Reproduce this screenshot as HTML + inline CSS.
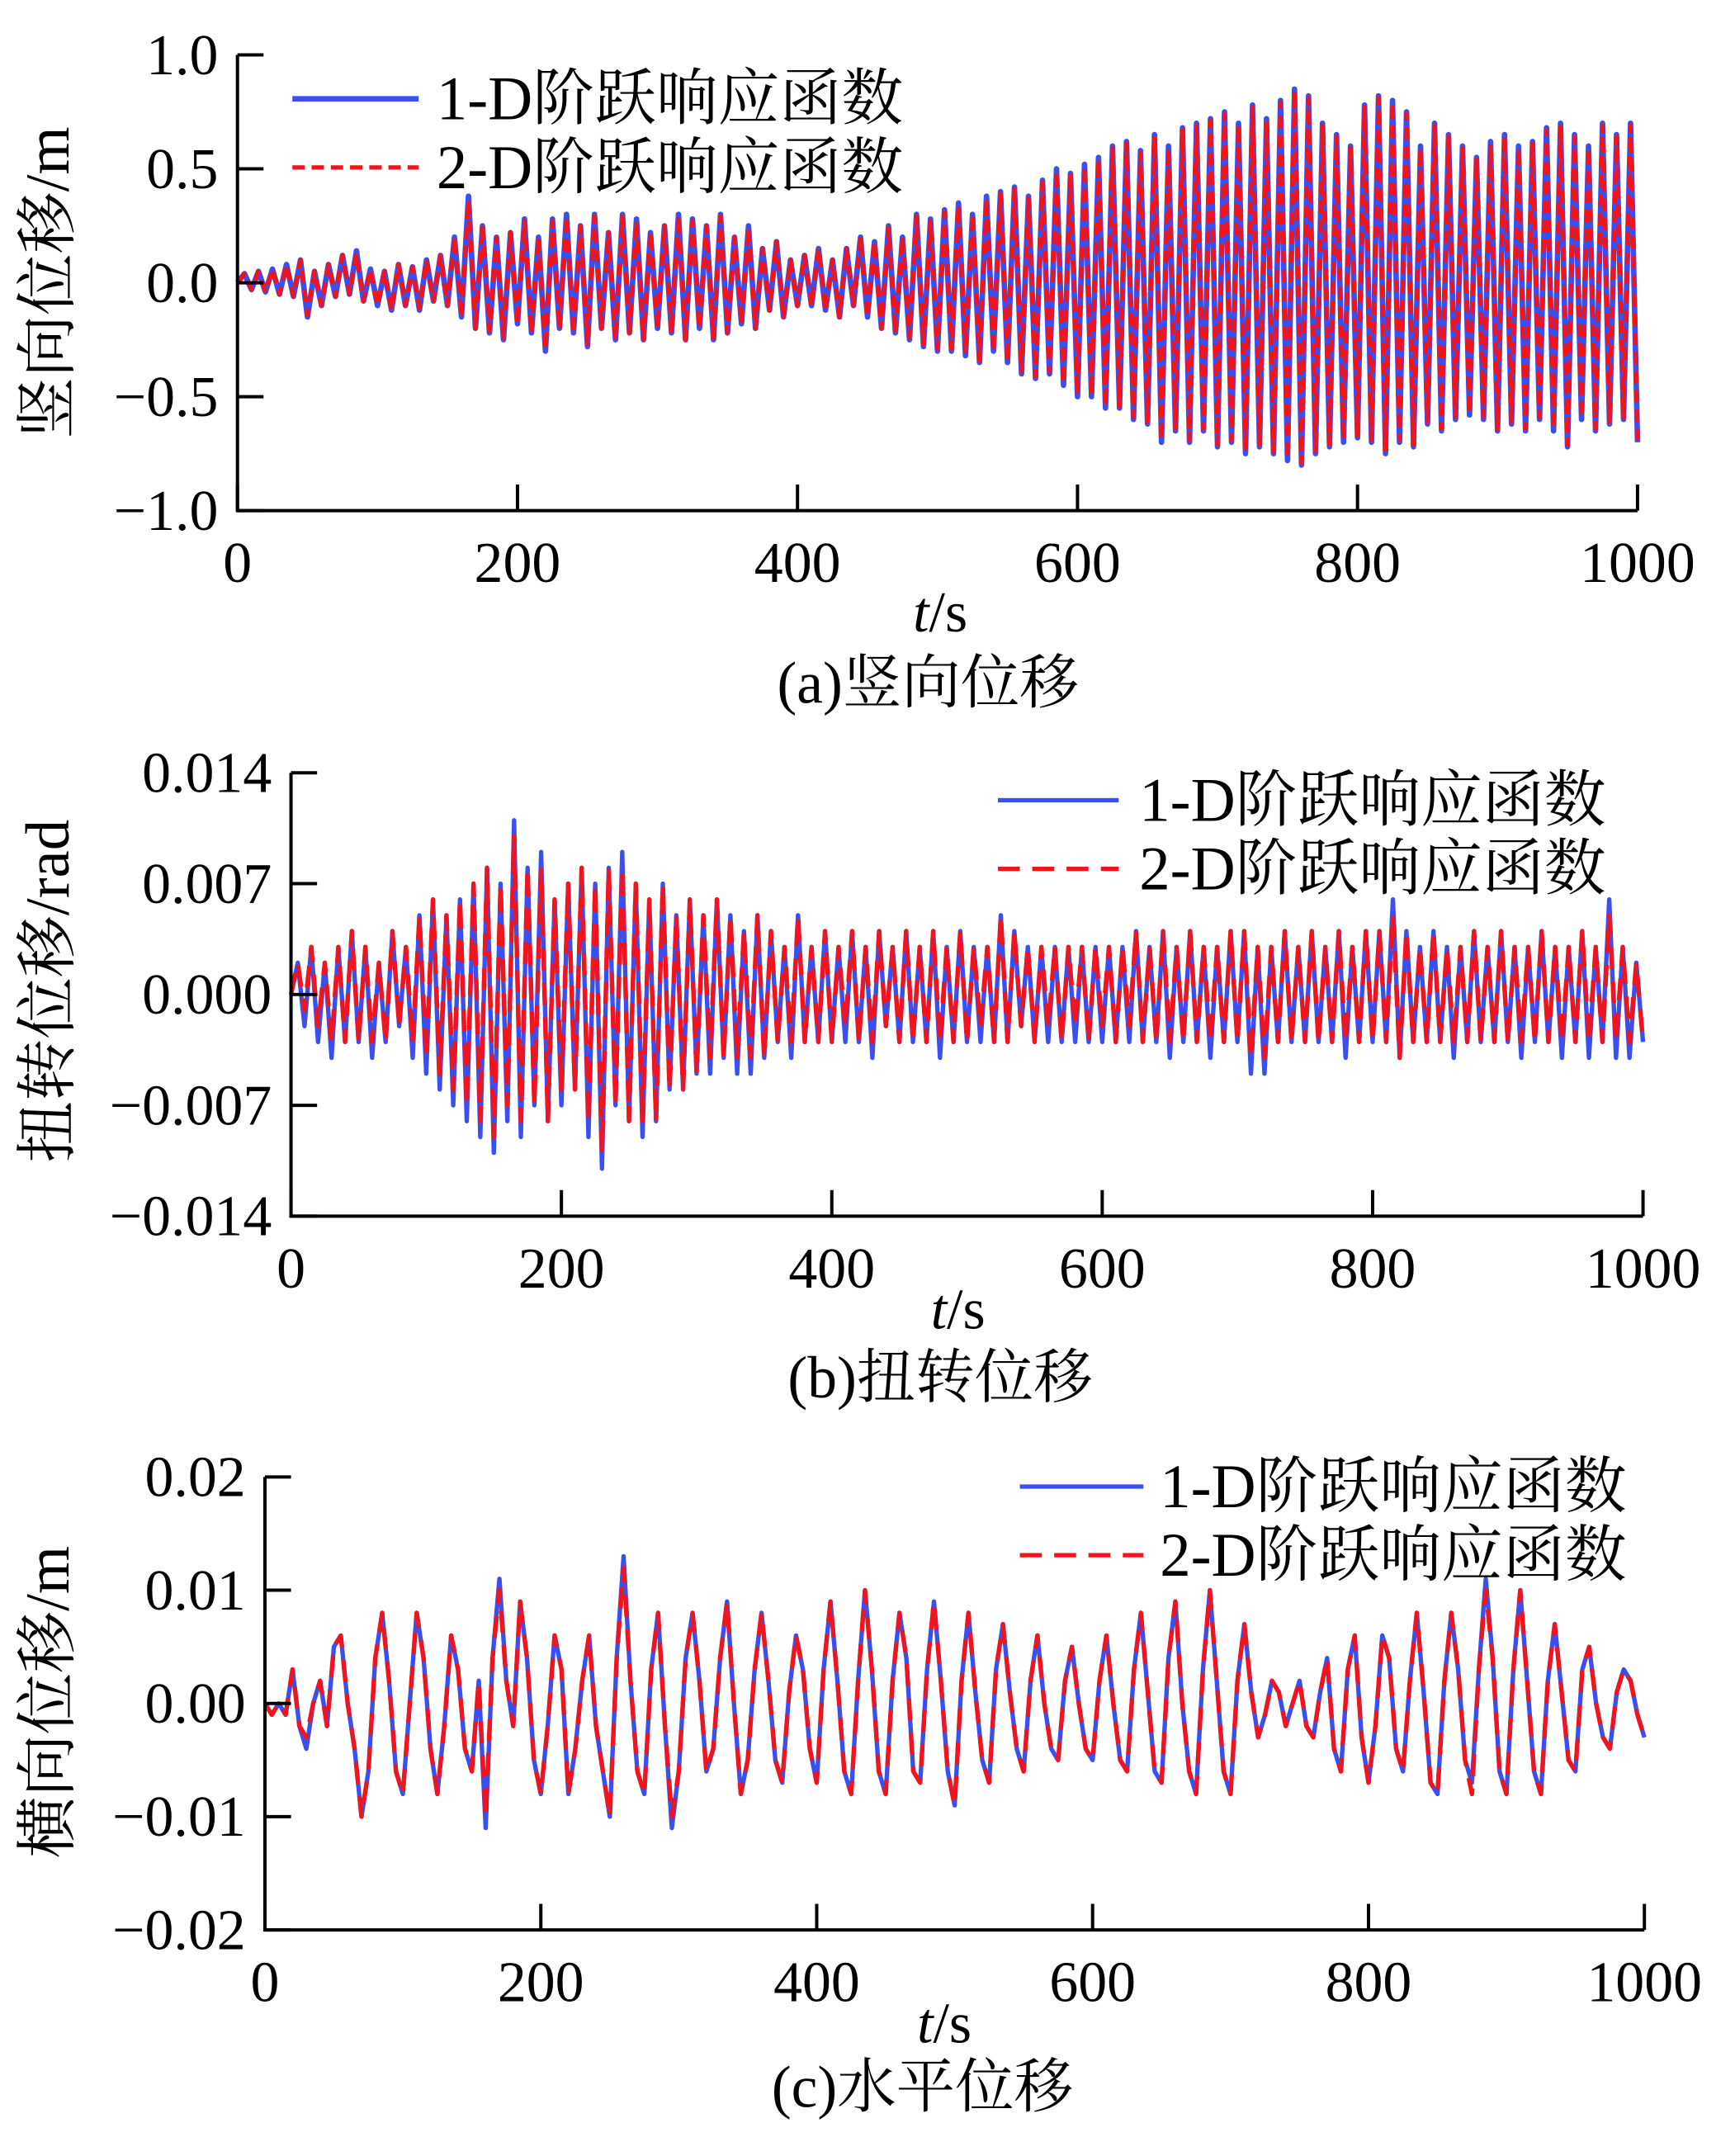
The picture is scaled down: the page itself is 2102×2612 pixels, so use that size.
<!DOCTYPE html>
<html><head><meta charset="utf-8">
<style>
html,body{margin:0;padding:0;background:#fff;}
svg{display:block;}
text{font-family:"Liberation Serif","Noto Serif CJK SC",serif;fill:#000;}
</style></head>
<body>
<svg id="fig" width="2102" height="2612" viewBox="0 0 1264 1570.7" xmlns="http://www.w3.org/2000/svg"></svg>
<script>
// ---- data (sampled every 5 s, t = 0..1000) ----
const tStep = 5;
const xTicks = [0,200,400,600,800,1000];
const xTickLabels = ["0","200","400","600","800","1000"];

const aTicks = [1.0,0.5,0.0,-0.5,-1.0];
const aTickLabels = ["1.0","0.5","0.0","\u22120.5","\u22121.0"];
const a1 = [0,0.04,-0.03,0.05,-0.04,0.06,-0.05,0.08,-0.06,0.1,-0.15,
0.05,-0.1,0.08,-0.06,0.12,-0.05,0.14,-0.08,0.06,-0.1,0.05,-0.12,0.08,-0.1,0.07,-0.12,0.1,-0.08,0.12,-0.1,
0.2,-0.15,0.38,-0.2,0.25,-0.22,0.2,-0.25,0.22,-0.18,
0.28,-0.22,0.2,-0.3,0.28,-0.2,0.3,-0.22,0.25,-0.28,0.3,-0.2,0.22,-0.25,0.3,-0.22,0.28,-0.25,0.22,-0.2,
0.25,-0.22,0.3,-0.25,0.28,-0.2,0.25,-0.25,0.3,-0.22,0.2,-0.18,0.25,-0.2,0.15,-0.12,0.18,-0.15,0.1,-0.1,
0.12,-0.1,0.15,-0.12,0.1,-0.15,0.15,-0.1,0.2,-0.15,0.18,-0.2,0.25,-0.22,0.2,-0.25,0.3,-0.28,0.28,-0.3,
0.32,-0.3,0.35,-0.32,0.3,-0.35,0.38,-0.3,0.4,-0.35,0.42,-0.4,0.38,-0.42,0.45,-0.4,0.5,-0.45,0.48,-0.5,
0.52,-0.5,0.55,-0.55,0.6,-0.55,0.62,-0.6,0.58,-0.62,0.65,-0.7,0.6,-0.65,0.68,-0.7,0.7,-0.65,0.72,-0.72,
0.75,-0.7,0.7,-0.75,0.78,-0.72,0.72,-0.75,0.8,-0.78,0.85,-0.8,0.82,-0.75,0.7,-0.72,0.65,-0.7,0.6,-0.68,
0.78,-0.7,0.82,-0.75,0.8,-0.7,0.75,-0.72,0.6,-0.62,0.7,-0.65,0.65,-0.6,0.6,-0.58,0.55,-0.6,0.62,-0.65,
0.65,-0.62,0.6,-0.65,0.62,-0.6,0.68,-0.65,0.7,-0.72,0.65,-0.6,0.6,-0.65,0.7,-0.62,0.65,-0.6,0.7,-0.7];
const a2 = [0,0.04,-0.03,0.05,-0.04,0.06,-0.05,0.08,-0.06,0.1,-0.14,
0.05,-0.1,0.08,-0.06,0.12,-0.05,0.13,-0.08,0.06,-0.1,0.05,-0.12,0.08,-0.1,0.07,-0.11,0.1,-0.08,0.12,-0.1,
0.2,-0.15,0.36,-0.2,0.25,-0.21,0.2,-0.24,0.22,-0.18,
0.27,-0.22,0.2,-0.29,0.27,-0.2,0.29,-0.22,0.25,-0.27,0.29,-0.2,0.22,-0.25,0.29,-0.22,0.27,-0.25,0.22,-0.2,
0.25,-0.22,0.29,-0.25,0.27,-0.2,0.25,-0.24,0.29,-0.22,0.2,-0.18,0.24,-0.2,0.15,-0.12,0.18,-0.15,0.1,-0.1,
0.12,-0.1,0.15,-0.12,0.1,-0.15,0.15,-0.1,0.2,-0.15,0.18,-0.2,0.24,-0.22,0.2,-0.24,0.29,-0.27,0.27,-0.29,
0.31,-0.29,0.34,-0.31,0.3,-0.34,0.37,-0.3,0.39,-0.34,0.41,-0.39,0.37,-0.41,0.44,-0.39,0.49,-0.44,0.47,-0.49,
0.51,-0.49,0.54,-0.54,0.59,-0.54,0.61,-0.59,0.57,-0.61,0.64,-0.69,0.59,-0.64,0.67,-0.69,0.69,-0.64,0.71,-0.71,
0.74,-0.69,0.69,-0.74,0.77,-0.71,0.71,-0.74,0.79,-0.77,0.84,-0.79,0.81,-0.74,0.69,-0.71,0.64,-0.69,0.59,-0.67,
0.77,-0.69,0.81,-0.74,0.79,-0.69,0.74,-0.71,0.59,-0.61,0.69,-0.64,0.64,-0.59,0.59,-0.57,0.54,-0.59,0.61,-0.64,
0.64,-0.61,0.59,-0.64,0.61,-0.59,0.67,-0.64,0.69,-0.71,0.64,-0.59,0.59,-0.64,0.69,-0.61,0.64,-0.59,0.69,-0.69];

const bTicks = [0.014,0.007,0,-0.007,-0.014];
const bTickLabels = ["0.014","0.007","0.000","\u22120.007","\u22120.014"];
// values in units of 0.001 rad
const b1 = [0,2,-2,3,-3,2,-4,3,-3,4,-3,
3,-4,2,-3,4,-2,3,-4,5,-5,6,-6,5,-7,6,-8,7,-9,8,-10,
7,-8,11,-9,8,-7,9,-8,6,-7,
7,-6,8,-9,7,-11,8,-7,9,-8,7,-9,6,-8,7,-6,5,-6,6,-5,
5,-5,6,-4,5,-5,4,-5,5,-4,4,-3,3,-4,5,-3,3,-3,4,-3,
3,-3,4,-3,3,-4,4,-2,3,-3,4,-3,3,-3,4,-4,3,-3,4,-3,
3,-3,3,-3,5,-3,4,-2,3,-3,3,-3,3,-3,3,-3,3,-3,3,-3,
3,-3,3,-3,4,-3,3,-3,4,-4,3,-3,4,-3,3,-4,3,-3,4,-3,
4,-5,3,-5,3,-3,4,-3,3,-3,4,-3,3,-3,4,-4,3,-3,4,-3,
4,-3,6,-4,4,-3,3,-3,4,-3,3,-4,3,-3,4,-3,3,-3,4,-3,
3,-4,3,-3,4,-3,3,-4,3,-3,4,-4,3,-3,6,-4,3,-4,2,-3];
const b2 = [0,2,-1,3,-2,2,-3,3,-3,4,-3,
3,-3,2,-3,4,-2,3,-3,5,-4,6,-5,5,-6,6,-7,7,-8,8,-9,
7,-7,10,-8,8,-7,8,-8,6,-6,
7,-6,8,-8,7,-10,8,-7,8,-8,7,-8,6,-8,7,-6,5,-6,6,-5,
5,-4,6,-4,5,-4,4,-4,5,-4,4,-3,3,-3,5,-3,3,-3,4,-3,
3,-2,4,-3,3,-3,4,-2,3,-3,4,-3,3,-3,4,-3,3,-3,4,-3,
3,-2,3,-3,5,-3,4,-2,3,-3,3,-2,3,-3,3,-2,3,-3,3,-2,
3,-3,3,-2,4,-3,3,-3,4,-3,3,-3,4,-3,3,-3,3,-3,4,-3,
4,-4,3,-4,3,-3,4,-3,3,-3,4,-3,3,-3,4,-3,3,-3,4,-3,
4,-3,5,-4,4,-3,3,-3,4,-3,3,-3,3,-3,4,-3,3,-3,4,-3,
3,-3,3,-3,4,-3,3,-3,3,-3,4,-3,3,-3,5,-3,3,-3,2,-3];

const cTicks = [0.02,0.01,0,-0.01,-0.02];
const cTickLabels = ["0.02","0.01","0.00","\u22120.01","\u22120.02"];
// values in units of 0.001 m
const c1 = [0,-1,0,-1,3,-2,-4,0,2,-2,5,
6,0,-4,-10,-6,4,8,2,-6,-8,0,8,4,-4,-8,-2,6,3,-4,-6,
2,-11,4,11,2,-2,9,4,-5,-8,
-2,6,3,-8,-4,2,6,-2,-6,-10,4,13,2,-6,-8,3,8,-2,-11,-6,
4,8,2,-6,-4,4,9,0,-8,-5,3,8,2,-5,-7,1,6,3,-4,-7,
3,9,2,-6,-8,2,10,3,-6,-8,2,8,4,-6,-7,3,9,2,-6,-9,
2,8,1,-5,-7,3,7,1,-4,-6,2,6,0,-4,-5,2,5,0,-4,-5,
2,6,0,-5,-6,3,8,1,-6,-7,4,9,0,-6,-8,3,10,2,-6,-8,
2,7,1,-3,-1,2,1,-2,0,2,-2,-3,1,4,-4,-6,3,6,-3,-7,
-2,6,4,-4,-6,2,8,1,-7,-8,2,8,3,-5,-7,3,11,4,-6,-8,
3,10,2,-6,-8,2,7,1,-5,-6,3,5,0,-3,-4,1,3,2,-1,-3];
const c2 = [0,-1,0,-1,3,-2,-3,0,2,-2,5,
6,0,-4,-10,-6,4,8,2,-6,-8,0,8,4,-4,-8,-2,6,3,-4,-6,
2,-10,4,10,2,-2,9,4,-5,-8,
-2,6,3,-8,-4,2,6,-2,-6,-10,4,12,2,-6,-8,3,8,-2,-10,-6,
4,8,2,-6,-4,4,9,0,-8,-5,3,8,2,-5,-7,1,6,3,-4,-7,
3,9,2,-6,-8,2,10,3,-6,-8,2,8,4,-6,-7,3,9,2,-6,-9,
2,8,1,-5,-7,3,7,1,-4,-6,2,6,0,-4,-5,2,5,0,-4,-5,
2,6,0,-5,-6,3,8,1,-6,-7,4,9,0,-6,-8,3,10,2,-6,-8,
2,7,1,-3,-1,2,1,-2,0,2,-2,-3,1,4,-4,-6,3,6,-3,-7,
-2,6,4,-4,-6,2,8,1,-7,-8,2,8,3,-5,-8,3,10,4,-6,-8,
3,10,2,-6,-8,2,7,1,-5,-6,3,5,0,-3,-4,1,3,2,-1,-3];

const NS = "http://www.w3.org/2000/svg";
const svg = document.getElementById('fig');
function mk(tag, attrs, parent){
  const e = document.createElementNS(NS, tag);
  for (const k in attrs) e.setAttribute(k, attrs[k]);
  (parent||svg).appendChild(e);
  return e;
}

function panel(cfg){
  const g = mk('g', {});
  
  
  const {x0,x1,yTop,yBot,ymax,ymin} = cfg;
  const sx = t => x0 + (t/1000)*(x1-x0);
  const sy = v => yTop + (ymax - v)/(ymax-ymin)*(yBot-yTop);

  const drawSeries = (vals, scale, style, nm) => {
    let d = '';
    vals.forEach((v,i)=>{ d += (i?'L':'M') + sx(i*tStep).toFixed(2) + ' ' + sy(v*scale).toFixed(2); });
    const p = mk('path', Object.assign({d, fill:'none', 'stroke-linejoin':'round'}, style), g);
    
    
  };
  drawSeries(cfg.s1, cfg.scale, {stroke:'#3b4ef0','stroke-width':cfg.lw1}, 'series-1d');
  drawSeries(cfg.s2, cfg.scale, {stroke:'#f0141e','stroke-width':cfg.lw2,'stroke-dasharray':cfg.dash}, 'series-2d');

  const ax = mk('path', {d:`M${x0} ${yTop}V${yBot}H${x1}`, fill:'none', stroke:'#000','stroke-width':2.4}, g);
  
  

  xTicks.forEach((t,i)=>{
    const x = sx(t);
    const tk = mk('line', {x1:x, x2:x, y1:yBot, y2:yBot-19, stroke:'#000','stroke-width':2.4}, g);
    
    
    const lb = mk('text', {x:x, y:yBot+52, 'font-size':42, 'text-anchor':'middle'}, g);
    lb.textContent = xTickLabels[i];
    
    
  });
  cfg.yTicks.forEach((v,i)=>{
    const y = sy(v);
    const tk = mk('line', {x1:x0, x2:x0+19, y1:y, y2:y, stroke:'#000','stroke-width':2.4}, g);
    
    
    const lb = mk('text', {x:x0-14, y:y+14, 'font-size':42, 'text-anchor':'end'}, g);
    lb.textContent = cfg.yTickLabels[i];
    
    
  });

  const xt = mk('text', {x:cfg.xtX, y:cfg.xtY, 'font-size':42, 'text-anchor':'middle'}, g);
  xt.innerHTML = '<tspan font-style="italic">t</tspan>/s';
  
  
  const yt = mk('text', {x:0, y:0, 'font-size':45, 'text-anchor':'middle', transform:`translate(${cfg.ytX},${cfg.ytY}) rotate(-90)`}, g);
  yt.textContent = cfg.yTitle;
  
  
  const cp = mk('text', {x:cfg.capX, y:cfg.capY, 'font-size':43, 'text-anchor':'middle'}, g);
  cp.textContent = cfg.caption;
  
  

  const L = cfg.leg;
  const l1 = mk('line', {x1:L.x, x2:L.x+L.len, y1:L.y, y2:L.y, stroke:'#3b4ef0','stroke-width':cfg.lw1}, g);
  
  
  const t1 = mk('text', {x:L.tx, y:L.y+15, 'font-size':45}, g);
  t1.textContent = '1-D阶跃响应函数';
  
  
  const l2 = mk('line', {x1:L.x, x2:L.x+L.len, y1:L.y+50, y2:L.y+50, stroke:'#f0141e','stroke-width':cfg.lw2,'stroke-dasharray':cfg.dash}, g);
  
  
  const t2 = mk('text', {x:L.tx, y:L.y+65, 'font-size':45}, g);
  t2.textContent = '2-D阶跃响应函数';
  
  
}

panel({name:'panel-a-vertical', x0:173, x1:1193, yTop:40, yBot:372, ymax:1.0, ymin:-1.0,
  s1:a1, s2:a2, scale:1, lw1:4, lw2:3.2, dash:'9 5',
  yTicks:aTicks, yTickLabels:aTickLabels,
  xtX:685, xtY:460, ytX:50, ytY:206, yTitle:'竖向位移/m', capX:676, capY:512, caption:'(a)竖向位移',
  leg:{x:213, len:92, y:72, tx:318}});

panel({name:'panel-b-torsion', x0:212, x1:1197, yTop:563, yBot:886, ymax:0.014, ymin:-0.014,
  s1:b1, s2:b2, scale:0.001, lw1:3.2, lw2:3.2, dash:'16 9',
  yTicks:bTicks, yTickLabels:bTickLabels,
  xtX:698, xtY:968, ytX:50, ytY:722, yTitle:'扭转位移/rad', capX:685, capY:1018, caption:'(b)扭转位移',
  leg:{x:727, len:88, y:583, tx:830}});

panel({name:'panel-c-lateral', x0:193, x1:1198, yTop:1076, yBot:1406, ymax:0.02, ymin:-0.02,
  s1:c1, s2:c2, scale:0.001, lw1:3.2, lw2:3.2, dash:'16 9',
  yTicks:cTicks, yTickLabels:cTickLabels,
  xtX:688, xtY:1488, ytX:50, ytY:1240, yTitle:'横向位移/m', capX:672, capY:1535, caption:'(c)水平位移',
  leg:{x:743, len:90, y:1083, tx:845}});
</script>
</body></html>
